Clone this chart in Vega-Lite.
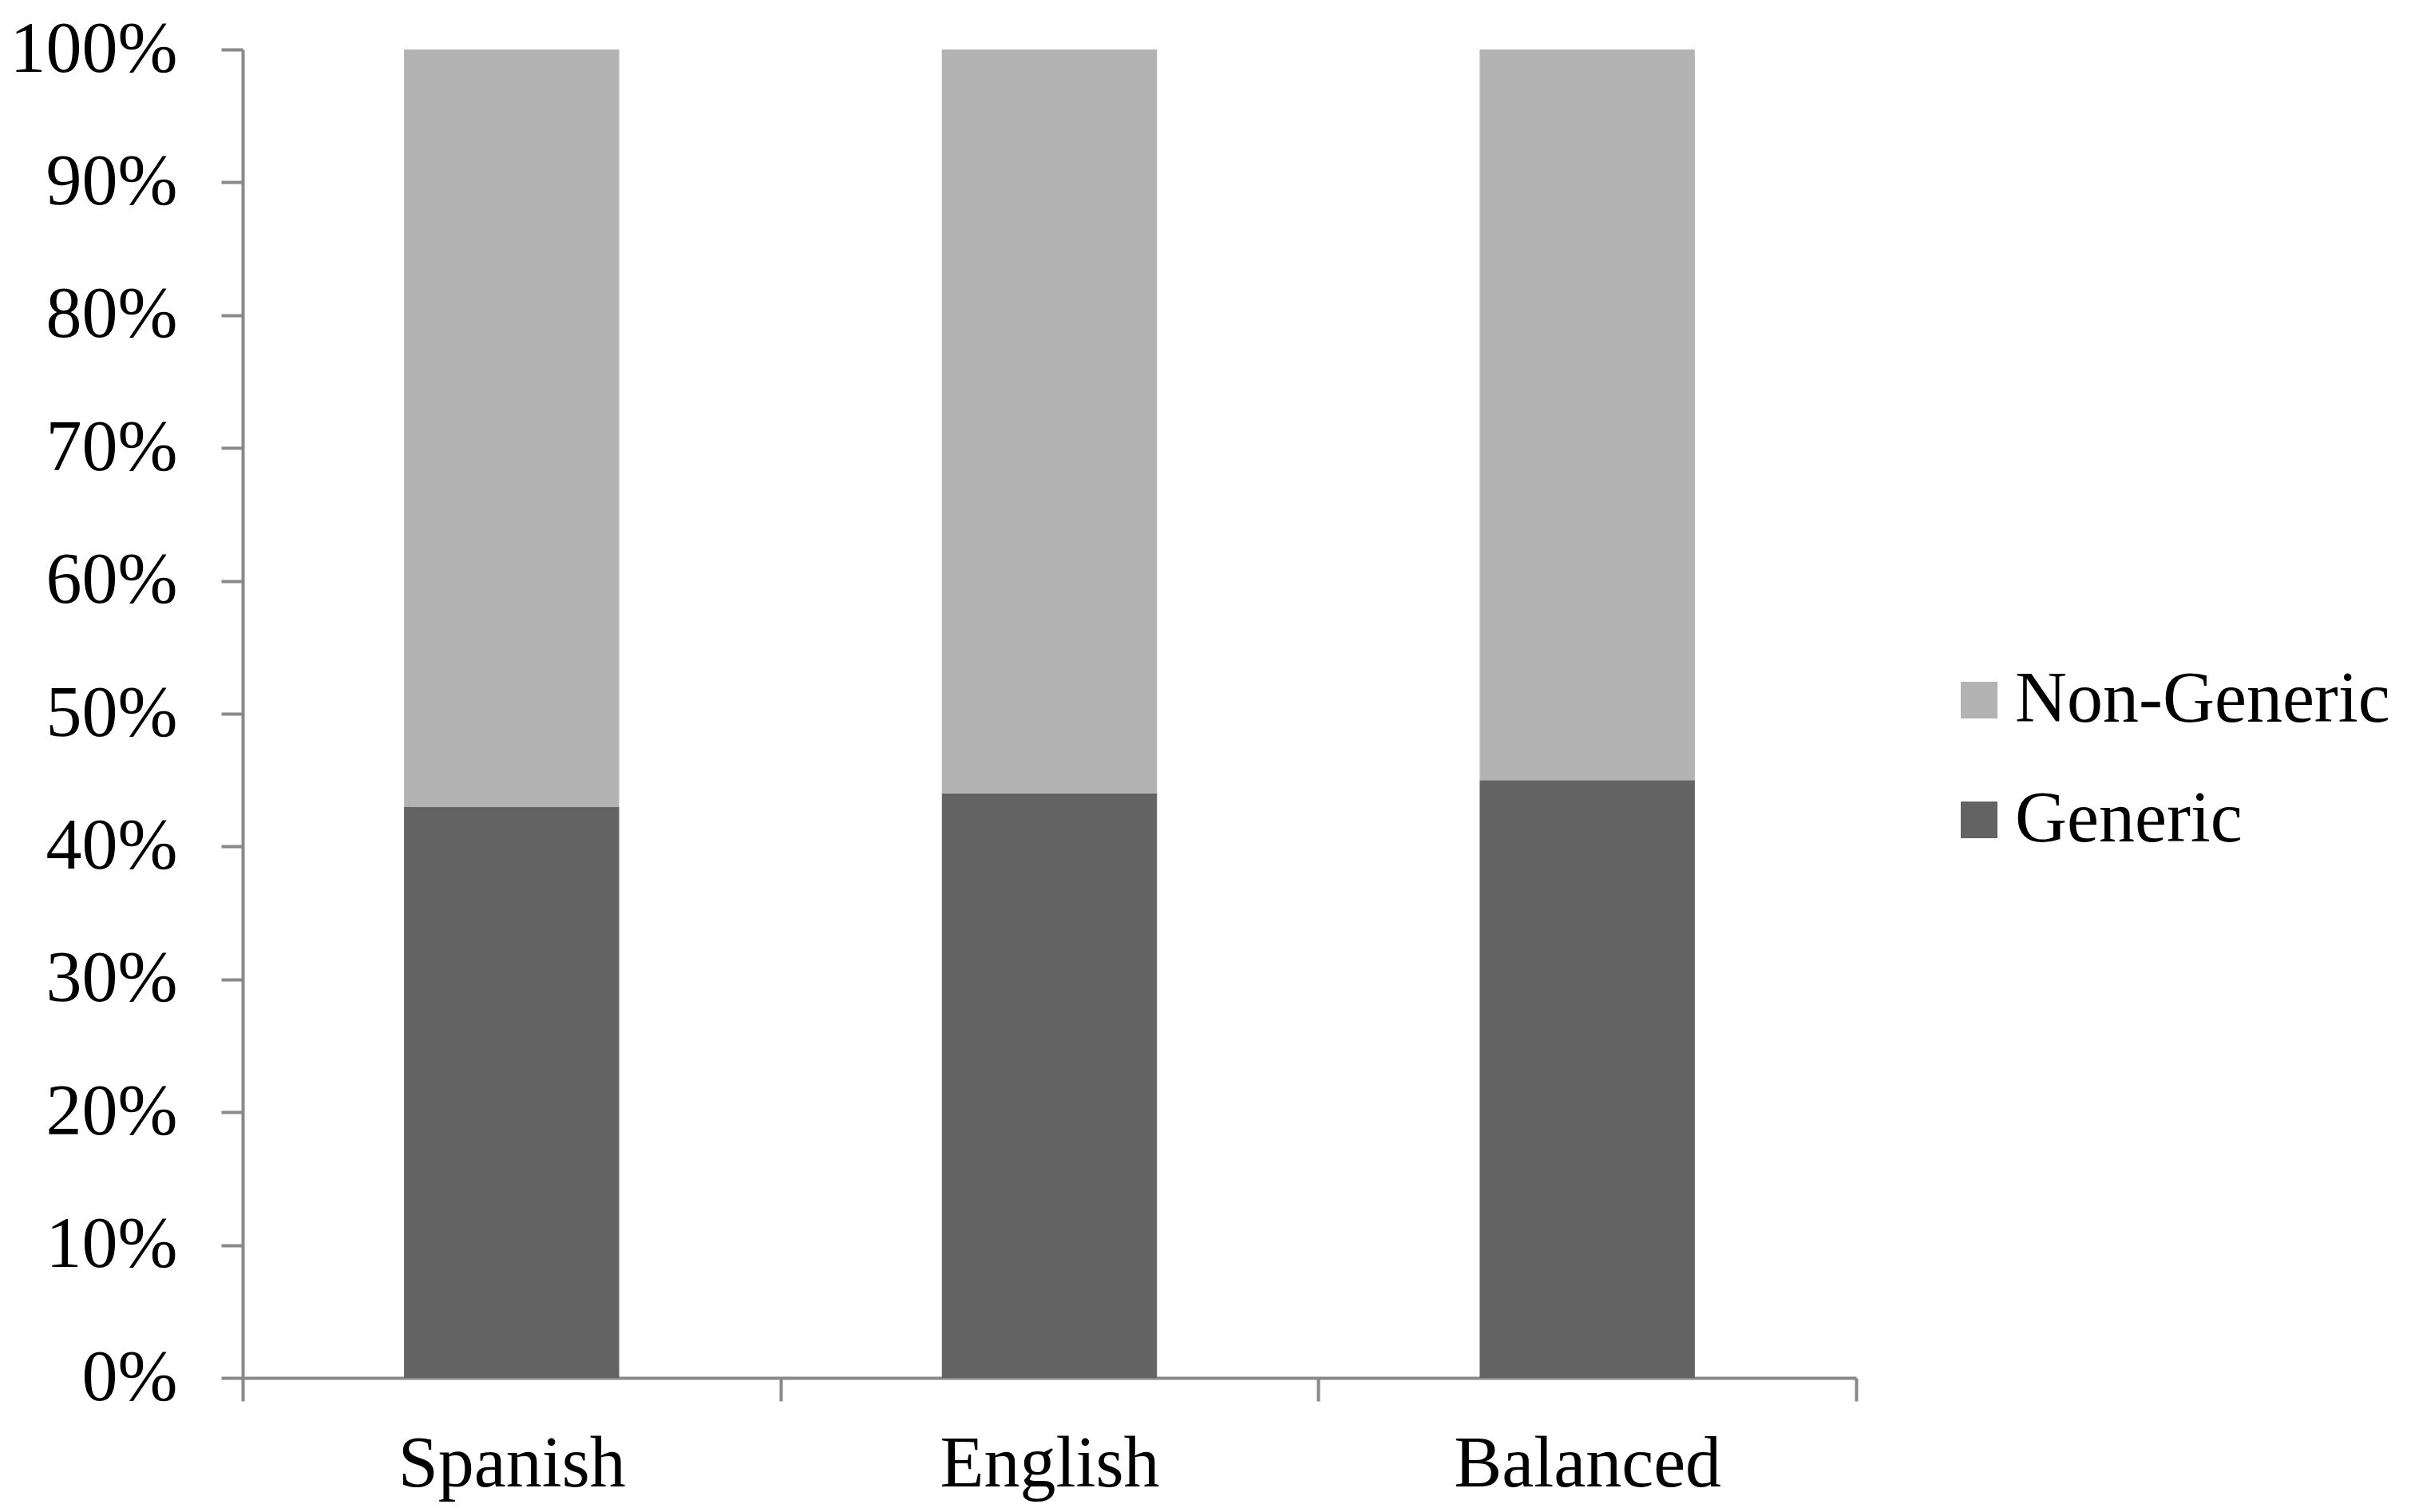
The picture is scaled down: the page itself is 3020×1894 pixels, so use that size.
{
  "$schema": "https://vega.github.io/schema/vega-lite/v6.json",
  "autosize": "none",
  "width": 2021,
  "height": 1664,
  "padding": {"left": 304, "top": 62, "right": 695, "bottom": 168},
  "background": "white",
  "config": {
    "view": {"stroke": null},
    "font": "Liberation Serif"
  },
  "data": {
    "values": [
      {"group": "Spanish", "type": "Generic", "value": 0.43},
      {"group": "Spanish", "type": "Non-Generic", "value": 0.57},
      {"group": "English", "type": "Generic", "value": 0.44},
      {"group": "English", "type": "Non-Generic", "value": 0.56},
      {"group": "Balanced", "type": "Generic", "value": 0.45},
      {"group": "Balanced", "type": "Non-Generic", "value": 0.55}
    ]
  },
  "mark": {"type": "bar", "width": {"band": 0.4}},
  "encoding": {
    "x": {
      "field": "group",
      "type": "nominal",
      "sort": ["Spanish", "English", "Balanced"],
      "scale": {"paddingInner": 0, "paddingOuter": 0},
      "axis": {
        "title": null,
        "labelAngle": 0,
        "labelLimit": 0,
        "labelFont": "Liberation Serif",
        "labelFontSize": 90,
        "labelColor": "black",
        "labelPadding": 35,
        "tickBand": "extent",
        "tickSize": 29,
        "tickWidth": 4,
        "tickColor": "#898989",
        "domainColor": "#898989",
        "domainWidth": 4
      }
    },
    "y": {
      "field": "value",
      "type": "quantitative",
      "stack": "zero",
      "scale": {"domain": [0, 1], "nice": false},
      "axis": {
        "title": null,
        "format": ".0%",
        "values": [0, 0.1, 0.2, 0.3, 0.4, 0.5, 0.6, 0.7, 0.8, 0.9, 1],
        "grid": false,
        "labelLimit": 0,
        "labelFont": "Liberation Serif",
        "labelFontSize": 90,
        "labelColor": "black",
        "labelPadding": 55,
        "tickSize": 27,
        "tickWidth": 4,
        "tickColor": "#898989",
        "domainColor": "#898989",
        "domainWidth": 4
      }
    },
    "color": {
      "field": "type",
      "type": "nominal",
      "scale": {"domain": ["Non-Generic", "Generic"], "range": ["#b3b3b3", "#636363"]},
      "legend": {
        "title": null,
        "orient": "none",
        "legendX": 2130,
        "legendY": 770,
        "symbolType": "square",
        "symbolSize": 2116,
        "symbolStrokeWidth": 0,
        "labelLimit": 0,
        "labelFont": "Liberation Serif",
        "labelFontSize": 90,
        "labelColor": "black",
        "labelOffset": 0,
        "rowPadding": 60
      }
    },
    "order": {"field": "type", "sort": "ascending"}
  }
}
